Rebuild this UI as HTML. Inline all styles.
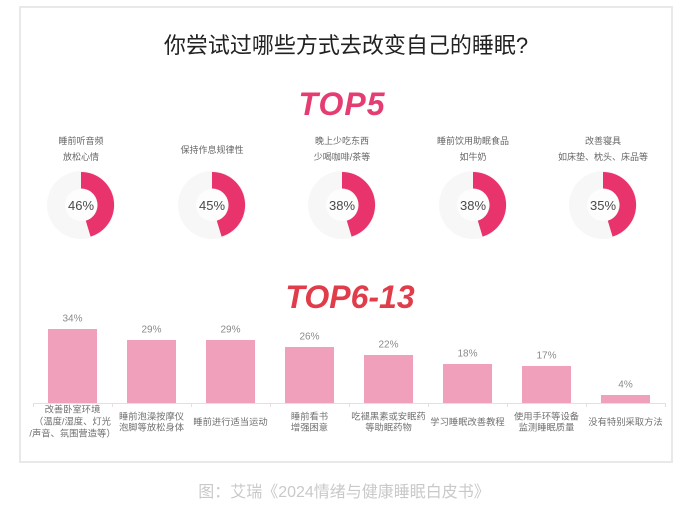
<!DOCTYPE html>
<html>
<head>
<meta charset="utf-8">
<style>
  html,body{margin:0;padding:0;background:#fff;}
  svg{display:block;}
  text{font-family:"Liberation Sans","Noto Sans CJK SC",sans-serif;}
</style>
</head>
<body>
<svg width="692" height="515" viewBox="0 0 692 515" xmlns="http://www.w3.org/2000/svg">
  <rect x="0" y="0" width="692" height="515" fill="#fff"/>
  <!-- frame -->
  <rect x="20" y="7" width="652" height="455" fill="#fff" stroke="#e9e9e9" stroke-width="2"/>

  <!-- title -->
  <text x="346" y="53" font-size="22" fill="#222" text-anchor="middle">你尝试过哪些方式去改变自己的睡眠?</text>

  <!-- TOP5 -->
  <text x="342" y="115" font-size="32" font-weight="bold" font-style="italic" fill="#e53d72" text-anchor="middle" letter-spacing="1">TOP5</text>

  <!-- donut labels -->
  <g font-size="9" fill="#666" text-anchor="middle">
    <text x="81" y="144">睡前听音频</text>
    <text x="81" y="160">放松心情</text>
    <text x="212" y="153">保持作息规律性</text>
    <text x="342" y="144">晚上少吃东西</text>
    <text x="342" y="160">少喝咖啡/茶等</text>
    <text x="473" y="144">睡前饮用助眠食品</text>
    <text x="473" y="160">如牛奶</text>
    <text x="603" y="144">改善寝具</text>
    <text x="603" y="160">如床垫、枕头、床品等</text>
  </g>

  <!-- donuts -->
  <g>
    <g transform="translate(81,205)">
      <circle r="34" fill="#f7f7f7"/><circle r="16" fill="#fdfdfd"/>
      <path d="M0,-33 A33,33 0 0 1 9.6,31.6 L4.8,15.8 A16.5,16.5 0 0 0 0,-16.5 Z" fill="#e8336c"/>
      <text x="0" y="5" font-size="13" fill="#4a4a4a" text-anchor="middle">46%</text>
    </g>
    <g transform="translate(212,205)">
      <circle r="34" fill="#f7f7f7"/><circle r="16" fill="#fdfdfd"/>
      <path d="M0,-33 A33,33 0 0 1 9.6,31.6 L4.8,15.8 A16.5,16.5 0 0 0 0,-16.5 Z" fill="#e8336c"/>
      <text x="0" y="5" font-size="13" fill="#4a4a4a" text-anchor="middle">45%</text>
    </g>
    <g transform="translate(342,205)">
      <circle r="34" fill="#f7f7f7"/><circle r="16" fill="#fdfdfd"/>
      <path d="M0,-33 A33,33 0 0 1 9.6,31.6 L4.8,15.8 A16.5,16.5 0 0 0 0,-16.5 Z" fill="#e8336c"/>
      <text x="0" y="5" font-size="13" fill="#4a4a4a" text-anchor="middle">38%</text>
    </g>
    <g transform="translate(473,205)">
      <circle r="34" fill="#f7f7f7"/><circle r="16" fill="#fdfdfd"/>
      <path d="M0,-33 A33,33 0 0 1 9.6,31.6 L4.8,15.8 A16.5,16.5 0 0 0 0,-16.5 Z" fill="#e8336c"/>
      <text x="0" y="5" font-size="13" fill="#4a4a4a" text-anchor="middle">38%</text>
    </g>
    <g transform="translate(603,205)">
      <circle r="34" fill="#f7f7f7"/><circle r="16" fill="#fdfdfd"/>
      <path d="M0,-33 A33,33 0 0 1 9.6,31.6 L4.8,15.8 A16.5,16.5 0 0 0 0,-16.5 Z" fill="#e8336c"/>
      <text x="0" y="5" font-size="13" fill="#4a4a4a" text-anchor="middle">35%</text>
    </g>
  </g>

  <!-- TOP6-13 -->
  <text x="350" y="308" font-size="32" font-weight="bold" font-style="italic" fill="#e03c4a" text-anchor="middle">TOP6-13</text>

  <!-- bars -->
  <g fill="#f1a0bc">
    <rect x="48" y="329" width="49" height="74"/>
    <rect x="127" y="340" width="49" height="63"/>
    <rect x="206" y="340" width="49" height="63"/>
    <rect x="285" y="347" width="49" height="56"/>
    <rect x="364" y="355" width="49" height="48"/>
    <rect x="443" y="364" width="49" height="39"/>
    <rect x="522" y="366" width="49" height="37"/>
    <rect x="601" y="395" width="49" height="8"/>
  </g>

  <!-- axis -->
  <g stroke="#eadde2" stroke-width="1">
    <line x1="33" y1="403.5" x2="665" y2="403.5"/>
    <line x1="33.5" y1="403" x2="33.5" y2="407"/>
    <line x1="112.5" y1="403" x2="112.5" y2="407"/>
    <line x1="191.5" y1="403" x2="191.5" y2="407"/>
    <line x1="270.5" y1="403" x2="270.5" y2="407"/>
    <line x1="349.5" y1="403" x2="349.5" y2="407"/>
    <line x1="428.5" y1="403" x2="428.5" y2="407"/>
    <line x1="507.5" y1="403" x2="507.5" y2="407"/>
    <line x1="586.5" y1="403" x2="586.5" y2="407"/>
    <line x1="665.5" y1="403" x2="665.5" y2="407"/>
  </g>

  <!-- value labels -->
  <g font-size="10" fill="#8a8a8a" text-anchor="middle">
    <text x="72.5" y="321.5">34%</text>
    <text x="151.5" y="332.5">29%</text>
    <text x="230.5" y="332.5">29%</text>
    <text x="309.5" y="339.5">26%</text>
    <text x="388.5" y="347.5">22%</text>
    <text x="467.5" y="356.5">18%</text>
    <text x="546.5" y="358.5">17%</text>
    <text x="625.5" y="387.5">4%</text>
  </g>

  <!-- category labels -->
  <g font-size="9.3" fill="#707070" text-anchor="middle">
    <text x="72.5" y="412.5">改善卧室环境</text>
    <text x="72.5" y="424.5">（温度/湿度、灯光</text>
    <text x="72.5" y="436.5">/声音、氛围营造等）</text>
    <text x="151.5" y="419.5">睡前泡澡按摩仪</text>
    <text x="151.5" y="430.5">泡脚等放松身体</text>
    <text x="230.5" y="425">睡前进行适当运动</text>
    <text x="309.5" y="419.5">睡前看书</text>
    <text x="309.5" y="430.5">增强困意</text>
    <text x="388.5" y="419.5">吃褪黑素或安眠药</text>
    <text x="388.5" y="430.5">等助眠药物</text>
    <text x="467.5" y="425">学习睡眠改善教程</text>
    <text x="546.5" y="419.5">使用手环等设备</text>
    <text x="546.5" y="430.5">监测睡眠质量</text>
    <text x="625.5" y="425">没有特别采取方法</text>
  </g>

  <!-- caption -->
  <text x="344" y="497" font-size="16" fill="#c9c9c9" text-anchor="middle">图：艾瑞《2024情绪与健康睡眠白皮书》</text>
</svg>
</body>
</html>
